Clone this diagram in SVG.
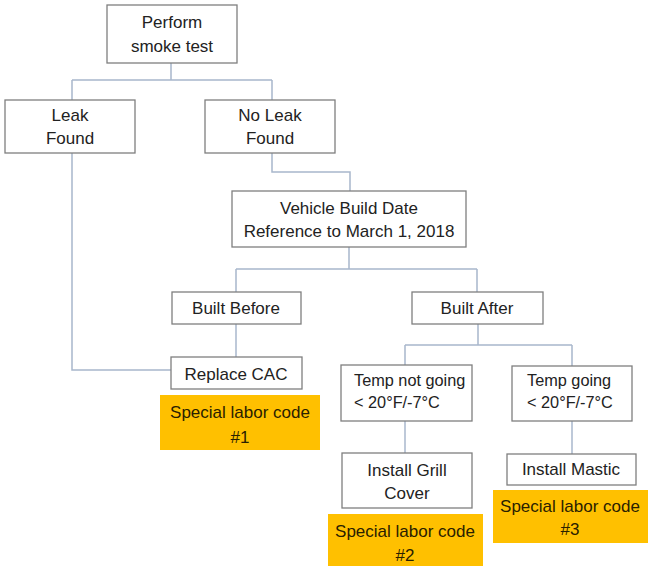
<svg xmlns="http://www.w3.org/2000/svg" width="648" height="566" viewBox="0 0 648 566">
<style>
.box{fill:#fff;stroke:#7f7f7f;stroke-width:1.3}
.tag{fill:#ffc000;stroke:none}
.t{font-family:"Liberation Sans",Arial,sans-serif;font-size:17px;fill:#222;text-anchor:middle}
.s{font-size:16.3px}
.l{text-anchor:start}
.o{fill:#2a2000}
.c{fill:none;stroke:#a8b7cc;stroke-width:1.5}
</style>
<rect width="648" height="566" fill="#fff"/>
<g id="connectors">
<path class="c" d="M171 63V80M72 80H272M72 80V100M272 80V100"/>
<path class="c" d="M72 153V370H171"/>
<path class="c" d="M272 153V172H350V191"/>
<path class="c" d="M349 247V269M236 269H477M236 269V292M477 269V292"/>
<path class="c" d="M236 324V357"/>
<path class="c" d="M478 324V345M405 345H572M405 345V365M572 345V366"/>
<path class="c" d="M405 421V453"/>
<path class="c" d="M572 421V454"/>
</g>
<g id="perform"><rect class="box" x="107" y="5" width="130" height="58"/><text class="t" x="172" y="28">Perform</text><text class="t" x="172" y="52">smoke test</text></g>
<g id="leak"><rect class="box" x="5" y="100" width="130" height="53"/><text class="t" x="70" y="121">Leak</text><text class="t" x="70" y="144">Found</text></g>
<g id="noleak"><rect class="box" x="205" y="100" width="130" height="53"/><text class="t" x="270" y="121">No Leak</text><text class="t" x="270" y="144">Found</text></g>
<g id="vehicle"><rect class="box" x="232" y="191" width="234" height="56"/><text class="t" x="349" y="214">Vehicle Build Date</text><text class="t" x="349" y="237">Reference to March 1, 2018</text></g>
<g id="before"><rect class="box" x="172" y="292" width="129" height="32"/><text class="t" x="236" y="314">Built Before</text></g>
<g id="after"><rect class="box" x="412" y="292" width="131" height="32"/><text class="t" x="477" y="314">Built After</text></g>
<g id="replace"><rect class="box" x="171" y="357" width="131" height="32"/><text class="t" x="236" y="380">Replace CAC</text></g>
<g id="code1"><rect class="tag" x="160" y="395" width="160" height="55"/><text class="t o" x="240" y="418">Special labor code</text><text class="t o" x="240" y="443">#1</text></g>
<g id="tempnot"><rect class="box" x="341" y="365" width="131" height="56"/><text class="t s l" x="354" y="386">Temp not going</text><text class="t s l" x="354" y="408">&lt; 20°F/-7°C</text></g>
<g id="tempgoing"><rect class="box" x="512" y="366" width="120" height="55"/><text class="t s l" x="527" y="386">Temp going</text><text class="t s l" x="527" y="408">&lt; 20°F/-7°C</text></g>
<g id="grill"><rect class="box" x="342" y="453" width="130" height="55"/><text class="t" x="407" y="476">Install Grill</text><text class="t" x="407" y="499">Cover</text></g>
<g id="mastic"><rect class="box" x="507" y="454" width="129" height="31"/><text class="t" x="571" y="475">Install Mastic</text></g>
<g id="code2"><rect class="tag" x="328" y="514" width="155" height="52"/><text class="t o" x="405" y="537">Special labor code</text><text class="t o" x="405" y="561">#2</text></g>
<g id="code3"><rect class="tag" x="493" y="490" width="155" height="53"/><text class="t o" x="570" y="512">Special labor code</text><text class="t o" x="570" y="535">#3</text></g>
</svg>
